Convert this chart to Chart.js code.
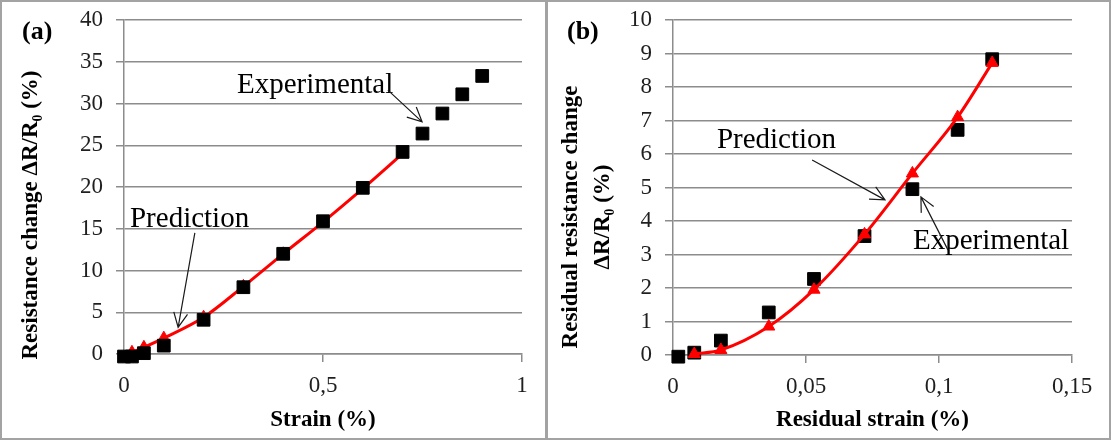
<!DOCTYPE html>
<html lang="en">
<head>
    <meta charset="UTF-8">
    <title>Resistance change vs strain</title>
    <style>
        body { margin: 0; background: #fff; }
        #frame {
            width: 1111px; height: 440px;
            box-sizing: border-box;
            border: 2px solid #a3a3a3;
            display: flex;
        }
        #pa { width: 543px; height: 436px; border-right: 3px solid #a3a3a3; }
        #pb { width: 561px; height: 436px; }
        canvas { display: block; }
    </style>
    <script src="https://cdn.jsdelivr.net/npm/chart.js"></script>
</head>
<body>
    <div id="frame">
        <div id="pa"><canvas id="chartA" width="543" height="436"></canvas></div>
        <div id="pb"><canvas id="chartB" width="561" height="436"></canvas></div>
    </div>

    <script>
        // panel (a): strain vs resistance change
        const strainA = [0, 0.02, 0.05, 0.1, 0.2, 0.3, 0.4, 0.5, 0.6, 0.7, 0.75, 0.8, 0.85, 0.9];
        const expA = [-0.3, -0.3, 0.1, 1.0, 4.1, 8.0, 12.0, 15.9, 19.9, 24.2, 26.4, 28.8, 31.1, 33.3];
        const predStrainA = [0.02, 0.05, 0.1, 0.2, 0.3, 0.4, 0.5, 0.6, 0.7];
        const predA = [0.2, 0.8, 1.9, 4.4, 8.1, 12.0, 15.8, 19.8, 24.0];
        const xTicksA = [0, 0.5, 1];

        // panel (b): residual strain vs residual resistance change
        const strainB = [0.002, 0.008, 0.018, 0.036, 0.053, 0.072, 0.09, 0.107, 0.12];
        const expB = [-0.05, 0.07, 0.43, 1.27, 2.27, 3.55, 4.95, 6.72, 8.83];
        const predStrainB = [0.008, 0.018, 0.036, 0.053, 0.072, 0.09, 0.107, 0.12];
        const predB = [0.03, 0.15, 0.85, 1.95, 3.6, 5.42, 7.1, 8.72];
        const xTicksB = [0, 0.05, 0.1, 0.15];

        const SERIF = '"Liberation Serif", "Times New Roman", serif';
        const GRID = '#8c8c8c';

        function drawArrow(ctx, x1, y1, x2, y2) {
            const a = Math.atan2(y2 - y1, x2 - x1), h = 16, s = 0.45;
            ctx.beginPath();
            ctx.moveTo(x1, y1);
            ctx.lineTo(x2, y2);
            ctx.moveTo(x2 - h * Math.cos(a - s), y2 - h * Math.sin(a - s));
            ctx.lineTo(x2, y2);
            ctx.lineTo(x2 - h * Math.cos(a + s), y2 - h * Math.sin(a + s));
            ctx.stroke();
        }

        // panel letter, rotated y title and the arrow notes
        const notesPlugin = {
            id: 'notes',
            afterDatasetsDraw(chart, args, opts) {
                const ctx = chart.ctx;
                const px = v => chart.scales.x.getPixelForValue(v);
                const py = v => chart.scales.y.getPixelForValue(v);
                ctx.save();
                ctx.fillStyle = '#000';

                ctx.font = 'bold 26px ' + SERIF;
                ctx.textAlign = 'left';
                ctx.textBaseline = 'alphabetic';
                ctx.fillText(opts.letter, opts.letterPos[0], opts.letterPos[1]);

                ctx.font = 'bold 23px ' + SERIF;
                ctx.textAlign = 'center';
                ctx.textBaseline = 'middle';
                opts.yTitle.forEach((line, i) => {
                    ctx.save();
                    ctx.translate(opts.yTitleX[i], opts.yTitleY);
                    ctx.rotate(-Math.PI / 2);
                    ctx.fillText(line, 0, 0);
                    ctx.restore();
                });

                ctx.font = '29px ' + SERIF;
                ctx.textAlign = 'left';
                ctx.textBaseline = 'alphabetic';
                ctx.strokeStyle = '#1a1a1a';
                ctx.lineWidth = 1.2;
                opts.notes.forEach(n => {
                    ctx.fillText(n.text, px(n.at[0]), py(n.at[1]));
                    drawArrow(ctx, px(n.from[0]), py(n.from[1]), px(n.to[0]), py(n.to[1]));
                });
                ctx.restore();
            }
        };

        function makeChart(id, cfg) {
            const tickFont = { family: SERIF, size: 23 };
            return new Chart(document.getElementById(id), {
                type: 'scatter',
                data: { datasets: cfg.datasets },
                plugins: [notesPlugin],
                options: {
                    responsive: false,
                    devicePixelRatio: 1,
                    animation: false,
                    layout: { padding: { top: 18, right: cfg.padRight, bottom: 0, left: 0 } },
                    plugins: {
                        legend: { display: false },
                        tooltip: { enabled: false },
                        notes: cfg.notes
                    },
                    scales: {
                        x: {
                            type: 'linear',
                            min: cfg.xTicks[0],
                            max: cfg.xTicks[cfg.xTicks.length - 1],
                            afterBuildTicks: s => { s.ticks = cfg.xTicks.map(v => ({ value: v })); },
                            afterFit: s => {
                                s.height = cfg.xHeight;
                                s.paddingLeft = 0;
                                s.paddingRight = 0;
                            },
                            grid: { drawOnChartArea: false, drawTicks: true, tickLength: 8, color: GRID, lineWidth: 1.5 },
                            border: { display: true, color: GRID, width: 1.5 },
                            ticks: {
                                padding: 10, color: '#1f1f1f', font: tickFont, maxRotation: 0,
                                callback: v => String(v).replace('.', ',')
                            },
                            title: {
                                display: true, text: cfg.xTitle, color: '#000',
                                font: { family: SERIF, size: 23, weight: 'bold' },
                                padding: { top: 0, bottom: 4 }
                            }
                        },
                        y: {
                            min: 0,
                            max: cfg.yMax,
                            afterFit: s => {
                                s.width = cfg.yWidth;
                                s.paddingTop = 0;
                                s.paddingBottom = 0;
                            },
                            grid: { drawTicks: true, tickLength: 8, color: GRID, lineWidth: 1.5 },
                            border: { display: true, color: GRID, width: 1.5 },
                            ticks: { stepSize: cfg.yStep, padding: 13, color: '#1f1f1f', font: tickFont }
                        }
                    }
                }
            });
        }

        const expStyle = {
            label: 'Experimental', showLine: false, clip: false,
            pointStyle: 'rect', pointRadius: 9,
            backgroundColor: '#000', borderColor: '#000', borderWidth: 1
        };
        const predStyle = {
            label: 'Prediction', showLine: true, clip: false,
            borderColor: '#ff0000', borderWidth: 3, cubicInterpolationMode: 'monotone',
            pointStyle: 'triangle', pointRadius: 7,
            pointBackgroundColor: '#ff0000', pointBorderColor: '#ff0000', pointBorderWidth: 1
        };

        makeChart('chartA', {
            datasets: [
                Object.assign({}, expStyle, { data: strainA.map((x, i) => ({ x, y: expA[i] })) }),
                Object.assign({}, predStyle, { data: predStrainA.map((x, i) => ({ x, y: predA[i] })) })
            ],
            xTicks: xTicksA, yMax: 40, yStep: 5,
            padRight: 23, yWidth: 122, xHeight: 84,
            xTitle: 'Strain (%)',
            notes: {
                letter: '(a)', letterPos: [20, 37],
                yTitle: ['Resistance change \u0394R/R\u2080 (%)'], yTitleX: [29], yTitleY: 213,
                notes: [
                    { text: 'Experimental', at: [0.284, 31.3], from: [0.663, 31.6], to: [0.749, 27.8] },
                    { text: 'Prediction', at: [0.015, 15.2], from: [0.178, 14.5], to: [0.136, 3.2] }
                ]
            }
        });

        makeChart('chartB', {
            datasets: [
                Object.assign({}, predStyle, { data: predStrainB.map((x, i) => ({ x, y: predB[i] })) }),
                Object.assign({}, expStyle, { data: strainB.map((x, i) => ({ x, y: expB[i] })) })
            ],
            xTicks: xTicksB, yMax: 10, yStep: 1,
            padRight: 37, yWidth: 125, xHeight: 83,
            xTitle: 'Residual strain (%)',
            notes: {
                letter: '(b)', letterPos: [19, 37],
                yTitle: ['Residual resistance change', '\u0394R/R\u2080 (%)'], yTitleX: [23, 55], yTitleY: 215,
                notes: [
                    { text: 'Prediction', at: [0.0165, 6.18], from: [0.0523, 5.82], to: [0.0797, 4.63] },
                    { text: 'Experimental', at: [0.0902, 3.16], from: [0.1034, 3.13], to: [0.0932, 4.72] }
                ]
            }
        });
    </script>
</body>
</html>
